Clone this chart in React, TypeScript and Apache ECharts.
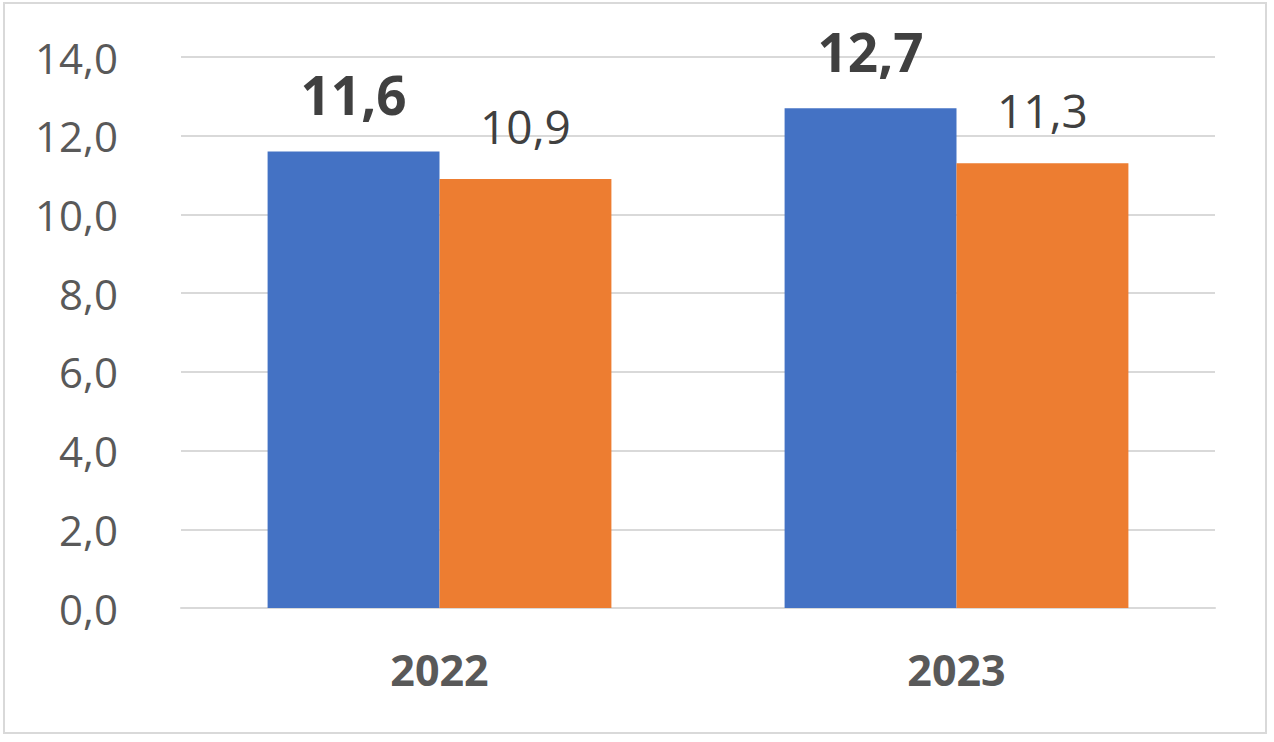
import React, { useEffect, useRef } from "react";
import * as echarts from "echarts";

const categories = ["2022", "2023"];
const seriesA = [11.6, 12.7];
const seriesB = [10.9, 11.3];
const yTicks = { min: 0, max: 14, interval: 2 };

const fmt = (v: number) => v.toFixed(1).replace(".", ",");

export default function App() {
  const ref = useRef<HTMLDivElement>(null);
  useEffect(() => {
    document.body.style.margin = "0";
    const chart = echarts.init(ref.current!, null, { renderer: "svg" });
    chart.setOption({
      animation: false,
      backgroundColor: "#ffffff",
      textStyle: { fontFamily: "Open Sans" },
      graphic: [
        {
          type: "rect",
          shape: { x: 4, y: 3, width: 1262, height: 730 },
          style: { fill: "none", stroke: "#d9d9d9", lineWidth: 2 },
          silent: true,
        },
      ],
      grid: { left: 181, right: 59, top: 57, bottom: 134 },
      xAxis: {
        type: "category",
        data: categories,
        axisLine: { show: true, lineStyle: { color: "#d9d9d9", width: 2 } },
        axisTick: { show: false },
        axisLabel: {
          color: "#595959",
          fontSize: 43,
          fontWeight: "bold",
          fontFamily: "Open Sans",
          margin: 40,
        },
      },
      yAxis: {
        type: "value",
        min: yTicks.min,
        max: yTicks.max,
        interval: yTicks.interval,
        axisLine: { show: false },
        axisTick: { show: false },
        splitLine: { lineStyle: { color: "#d9d9d9", width: 2 } },
        axisLabel: {
          color: "#595959",
          fontSize: 42,
          fontFamily: "Open Sans",
          margin: 63,
          formatter: (v: number) => fmt(v),
        },
      },
      series: [
        {
          type: "bar",
          data: seriesA,
          barGap: "0%",
          barCategoryGap: "33.5%",
          itemStyle: { color: "#4472C4" },
          label: {
            show: true,
            position: "top",
            distance: 30,
            color: "#404040",
            fontSize: 53,
            fontWeight: "bold",
            fontFamily: "Open Sans",
            formatter: (p: any) => fmt(p.value),
          },
        },
        {
          type: "bar",
          data: seriesB,
          barGap: "0%",
          barCategoryGap: "33.5%",
          itemStyle: { color: "#ED7D31" },
          label: {
            show: true,
            position: "top",
            distance: 30,
            color: "#404040",
            fontSize: 46,
            fontFamily: "Open Sans",
            formatter: (p: any) => fmt(p.value),
          },
        },
      ],
    });
    return () => chart.dispose();
  }, []);
  return (
    <div
      ref={ref}
      style={{ position: "absolute", left: 0, top: 0, width: 1274, height: 742 }}
    />
  );
}
